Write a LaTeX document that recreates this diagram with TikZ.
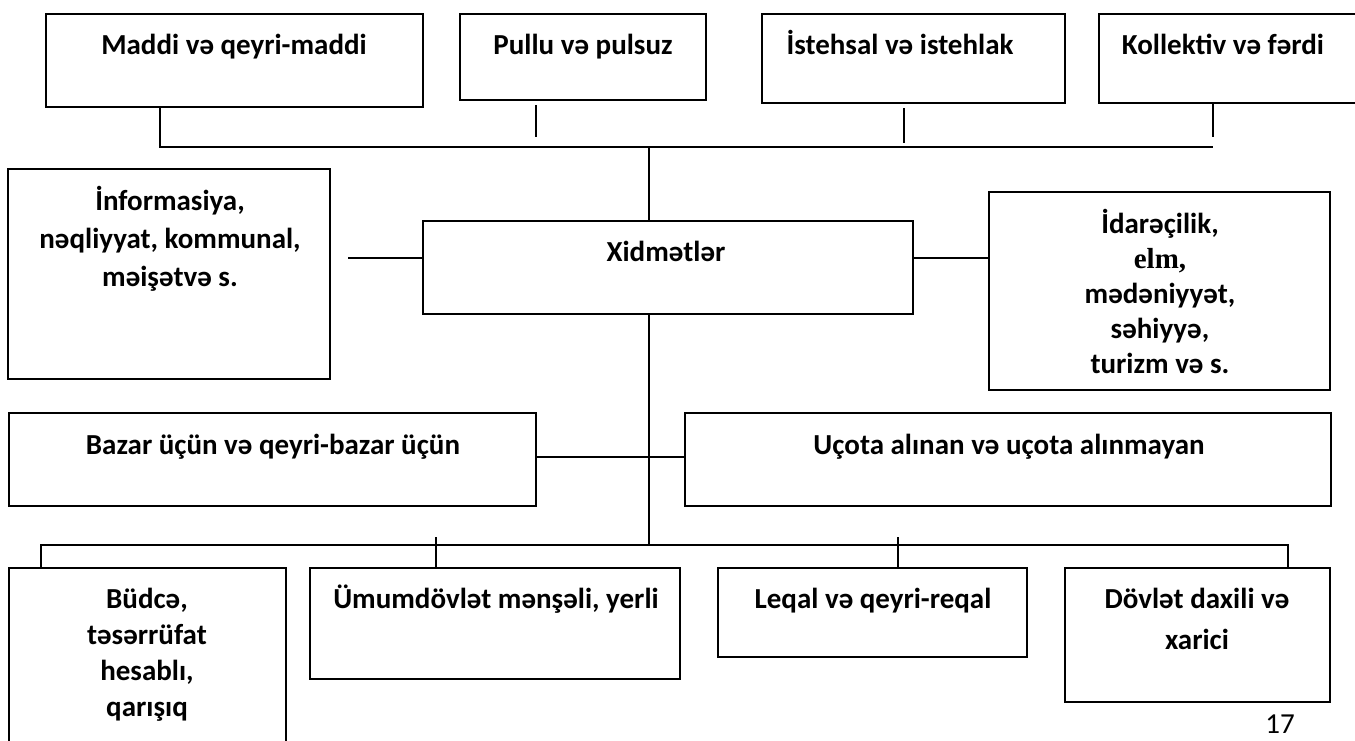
\documentclass[tikz,border=0pt]{standalone}
\usepackage{fontspec}
\setmainfont{Carlito}
\newfontfamily\elmfont{Liberation Serif}
\usetikzlibrary{fit}

\tikzset{
  box/.style={draw, line width=1.5pt, inner sep=0pt},
  conn/.style={line width=1.2pt},
  txt/.style={font=\bfseries\fontsize{21.75}{#1}\selectfont, align=center, anchor=base, inner sep=0pt},
  txt/.default=27pt
}

\begin{document}
\begin{tikzpicture}[x=0.75pt,y=-0.75pt]
\useasboundingbox (0,0) rectangle (1355,740);
\clip (0,0) rectangle (1355,740);

% Top row
\node[box, fit={(46,14) (423,107)}] (maddi) {};
\node[txt] (tmaddi) at (234,54) {Maddi və qeyri-maddi};
\node[box, fit={(460,14) (706,100)}] (pullu) {};
\node[txt] (tpullu) at (583,54) {Pullu və pulsuz};
\node[box, fit={(762,14) (1065,103)}] (istehsal) {};
\node[txt] (tistehsal) at (900,54) {İstehsal və istehlak};
\node[box, fit={(1099,14) (1380,103)}] (kollektiv) {};
\node[txt] (tkollektiv) at (1223,54) {Kollektiv və fərdi};

% Middle row (base = last line)
\node[box, fit={(423,221) (913,314)}] (xidmet) {};
\node[txt] (txidmet) at (666,261) {Xidmətlər};
\node[box, fit={(8,169) (330,379)}] (info) {};
\node[txt=28.5pt] (tinfo) at (170,286) {İnformasiya,\\nəqliyyat, kommunal,\\məişətvə s.};
\node[box, fit={(989,192) (1330,390)}] (idare) {};
\node[txt=26.25pt] (tidare) at (1160,373) {İdarəçilik,\\{\elmfont elm,}\\mədəniyyət,\\səhiyyə,\\turizm və s.};

% Market / accounting row
\node[box, fit={(9,413) (536,506)}] (bazar) {};
\node[txt] (tbazar) at (273,454) {Bazar üçün və qeyri-bazar üçün};
\node[box, fit={(685,413) (1331,506)}] (ucota) {};
\node[txt] (tucota) at (1009,454) {Uçota alınan və uçota alınmayan};

% Bottom row
\node[box, fit={(9,568) (286,770)}] (budce) {};
\node[txt] (tbudce) at (147,716) {Büdcə,\\təsərrüfat\\hesablı,\\qarışıq};
\node[box, fit={(310,568) (680,679)}] (umum) {};
\node[txt] (tumum) at (496,608) {Ümumdövlət mənşəli, yerli};
\node[box, fit={(718,568) (1027,657)}] (leqal) {};
\node[txt] (tleqal) at (873,608) {Leqal və qeyri-reqal};
\node[box, fit={(1065,568) (1330,702)}] (dovlet) {};
\node[txt=30.75pt] (tdovlet) at (1197,649) {Dövlət daxili və\\xarici};

\node[font=\fontsize{21.75}{26}\selectfont, anchor=base, inner sep=0pt] (page) at (1280,733) {17};

% Upper connectors
\coordinate (hubT) at (649,147);
\draw[conn] (maddi.south -| 160,0) -- (160,147) -- (1213,147);
\draw[conn] (kollektiv.south -| 1213,0) -- (1213,137);
\draw[conn] (536,105) -- (536,137);
\draw[conn] (904,108) -- (904,143);
\draw[conn] (hubT) -- (xidmet.north -| hubT);

% Side connectors
\coordinate (infoR) at (348,258);
\draw[conn] (infoR) -- (xidmet.west |- infoR);
\draw[conn] (xidmet.east |- infoR) -- (idare.west |- infoR);
\draw[conn] (bazar.east |- 0,457) -- (ucota.west |- 0,457);

% Lower connectors
\coordinate (hubB) at (649,545);
\draw[conn] (xidmet.south -| hubB) -- (hubB);
\draw[conn] (budce.north -| 41,0) -- (41,545) -- (1288,545) -- (dovlet.north -| 1288,0);
\draw[conn] (436,537) -- (umum.north -| 436,0);
\draw[conn] (898,537) -- (leqal.north -| 898,0);
\end{tikzpicture}
\end{document}
